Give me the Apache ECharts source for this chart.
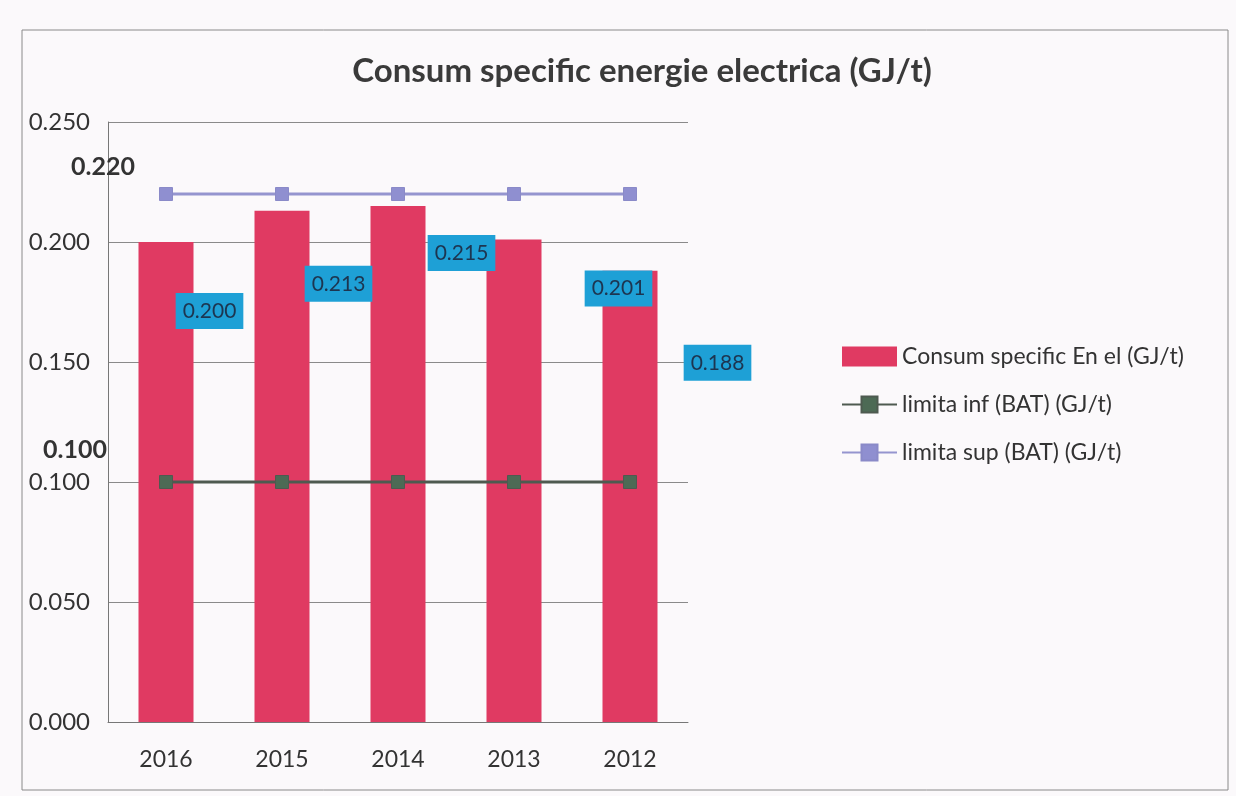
<!DOCTYPE html>
<html>
<head>
<meta charset="utf-8">
<script src="https://cdn.jsdelivr.net/npm/echarts@6/dist/echarts.min.js"></script>
<style>
html,body{margin:0;padding:0;background:#fbf9fb;}
#chart{width:1236px;height:796px;}
</style>
</head>
<body>
<div id="chart"></div>
<script>
const categories = ['2016', '2015', '2014', '2013', '2012'];
const consumValues = [0.200, 0.213, 0.215, 0.201, 0.188];
const limitaInf = [0.100, 0.100, 0.100, 0.100, 0.100];
const limitaSup = [0.220, 0.220, 0.220, 0.220, 0.220];
const yTicks = [0, 0.05, 0.10, 0.15, 0.20, 0.25];

const seriesNames = ['Consum specific En el (GJ/t)', 'limita inf (BAT) (GJ/t)', 'limita sup (BAT) (GJ/t)'];
// label box placement relative to each bar (px)
const labelPos = [[71, 69], [84, 73], [91, 47], [132, 49], [115, 92]];

const font = 'Lato, "Open Sans", sans-serif';
const chart = echarts.init(document.getElementById('chart'));

const barData = consumValues.map((v, i) => ({
  value: v,
  label: { position: labelPos[i] }
}));

const supData = limitaSup.map((v, i) => i === 0 ? {
  value: v,
  label: { show: true, position: 'left', distance: 24, offset: [0, -27],
    formatter: p => p.value.toFixed(3), fontFamily: font, fontWeight: 'bold', fontSize: 25, color: '#333' }
} : v);
const infData = limitaInf.map((v, i) => i === 0 ? {
  value: v,
  label: { show: true, position: 'left', distance: 52, offset: [0, -32],
    formatter: p => p.value.toFixed(3), fontFamily: font, fontWeight: 'bold', fontSize: 25, color: '#333' }
} : v);

chart.setOption({
  backgroundColor: '#fbf9fb',
  animation: false,
  title: {
    text: 'Consum specific energie electrica (GJ/t)',
    left: 637, top: 50, textAlign: 'center',
    textStyle: { fontFamily: font, fontWeight: 'bold', fontSize: 33, color: '#3a3a3a' }
  },
  graphic: [{
    type: 'rect', shape: { x: 22, y: 30, width: 1206, height: 760 },
    style: { fill: 'none', stroke: '#8a8a8a', lineWidth: 1 }, silent: true
  }],
  legend: {
    orient: 'vertical', left: 836, top: 340, itemGap: 25,
    itemWidth: 55, itemHeight: 20,
    data: [
      { name: seriesNames[0], icon: 'rect' },
      { name: seriesNames[1] },
      { name: seriesNames[2] }
    ],
    textStyle: { fontFamily: font, fontSize: 23, color: '#333' }
  },
  grid: { left: 108, right: 548, top: 122, bottom: 74 },
  xAxis: {
    type: 'category', data: categories,
    axisLine: { lineStyle: { color: '#777', width: 1 } },
    axisTick: { show: false },
    axisLabel: { fontFamily: font, fontSize: 23, color: '#333', margin: 26 }
  },
  yAxis: {
    type: 'value', min: 0, max: 0.25, interval: 0.05,
    axisLine: { show: true, lineStyle: { color: '#777', width: 1 } },
    axisTick: { show: false },
    splitLine: { lineStyle: { color: '#8a8a8a', width: 1 } },
    axisLabel: { fontFamily: font, fontSize: 24, color: '#333', margin: 18,
      formatter: v => yTicks.some(t => Math.abs(t - v) < 1e-9) ? v.toFixed(3) : '' }
  },
  series: [
    {
      name: seriesNames[0], type: 'bar', data: barData, barWidth: 55,
      itemStyle: { color: '#e03a62' },
      label: {
        show: true, formatter: p => p.value.toFixed(3),
        align: 'center', verticalAlign: 'middle',
        backgroundColor: '#1ea0d6', color: '#1d3550',
        fontFamily: font, fontSize: 21, padding: [8, 7, 7, 7]
      },
      z: 2
    },
    {
      name: seriesNames[1], type: 'line', data: infData,
      symbol: 'rect', symbolSize: 13,
      lineStyle: { color: '#4e5a50', width: 3 },
      itemStyle: { color: '#4d6a55', borderColor: '#4e5a50', borderWidth: 1 },
      z: 3
    },
    {
      name: seriesNames[2], type: 'line', data: supData,
      symbol: 'rect', symbolSize: 13,
      lineStyle: { color: '#9595cf', width: 3 },
      itemStyle: { color: '#8f8fd0', borderColor: '#8a8ac8', borderWidth: 1 },
      z: 3
    }
  ]
});
</script>
</body>
</html>
